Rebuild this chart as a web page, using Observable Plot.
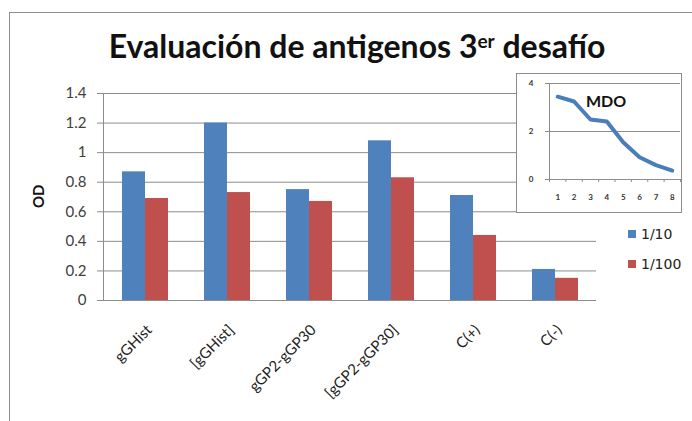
<!DOCTYPE html>
<html><head><meta charset="utf-8">
<script src="https://cdn.jsdelivr.net/npm/d3@7"></script>
<script src="https://cdn.jsdelivr.net/npm/@observablehq/plot@0.6"></script>
<style>
body{margin:0;background:#fff;}
#wrap{position:relative;width:692px;height:421px;overflow:hidden;font-family:Lato,"Open Sans",sans-serif;background:#fff;}
#frame{position:absolute;left:9px;top:12px;width:720px;height:440px;border:1.5px solid #8c8c8c;}
#main{position:absolute;left:0;top:0;}
#title{position:absolute;left:0;width:714px;top:27px;text-align:center;font-size:32px;font-weight:bold;color:#111;line-height:37px;white-space:nowrap;}
#title sup{font-size:19px;vertical-align:top;position:relative;top:-5px;}
#ylab{position:absolute;left:28px;top:186px;width:20px;height:24px;font-size:15px;font-weight:bold;color:#111;transform:rotate(-90deg);transform-origin:50% 50%;text-align:center;line-height:24px;}
#inset{position:absolute;left:516px;top:73px;width:164px;height:138px;border:1.5px solid #8c8c8c;background:#fff;}
#inset svg{position:absolute;left:0;top:0;}
#mdo{position:absolute;left:586px;top:91px;font-size:16px;font-weight:bold;color:#111;font-family:Lato,sans-serif;}
.leg{position:absolute;left:628px;font-family:"DejaVu Sans",sans-serif;font-size:14px;color:#222;line-height:16px;}
.leg span{display:inline-block;width:8px;height:8px;margin-right:5px;vertical-align:1px;}
</style></head>
<body>
<div id="wrap">
  <div id="frame"></div>
  <div id="main"></div>
  <div id="title">Evaluación de antigenos 3<sup>er</sup> desafío</div>
  <div id="ylab">OD</div>
  <div id="inset"></div>
  <div id="mdo">MDO</div>
  <div class="leg" id="leg1" style="top:226px"><span style="background:#4f81bd"></span>1/10</div>
  <div class="leg" id="leg2" style="top:256px"><span style="background:#c0504d"></span>1/100</div>
</div>
<script>
const categories = ["gGHist", "[gGHist]", "gGP2-gGP30", "[gGP2-gGP30]", "C(+)", "C(-)"];
const seriesNames = ["1/10", "1/100"];
const od_1_10 = [0.87, 1.20, 0.75, 1.08, 0.71, 0.21];
const od_1_100 = [0.69, 0.73, 0.67, 0.83, 0.44, 0.15];
const yTicks = [0, 0.2, 0.4, 0.6, 0.8, 1, 1.2, 1.4];

const mdoX = [1, 2, 3, 4, 5, 6, 7, 8];
const mdoY = [3.45, 3.25, 2.5, 2.42, 1.55, 0.93, 0.6, 0.37];
const mdoYTicks = [0, 2, 4];
const mdoXBounds = [0.5, 1.5, 2.5, 3.5, 4.5, 5.5, 6.5, 7.5, 8.5];

const colors = ["#4f81bd", "#c0504d"];
const rows1 = categories.map((c, i) => ({cat: c, v: od_1_10[i]}));
const rows2 = categories.map((c, i) => ({cat: c, v: od_1_100[i]}));
const mdoRows = mdoX.map((x, i) => ({x, y: mdoY[i]}));

const main = Plot.plot({
  width: 692, height: 421,
  marginLeft: 103, marginRight: 96, marginTop: 93, marginBottom: 121,
  style: {fontFamily: "Lato, 'Open Sans', sans-serif", background: "transparent", color: "#333"},
  x: {domain: categories, padding: 0},
  y: {domain: [0, 1.4]},
  marks: [
    Plot.gridY(yTicks, {stroke: "#8c8c8c", strokeOpacity: 1, strokeWidth: 1}),
    Plot.barY(rows1, {x: "cat", y: "v", fill: colors[0], insetLeft: 18, insetRight: 41}),
    Plot.barY(rows2, {x: "cat", y: "v", fill: colors[1], insetLeft: 41, insetRight: 18}),
    Plot.ruleY([0], {stroke: "#8c8c8c"}),
    Plot.frame({anchor: "left", stroke: "#8c8c8c"}),
    Plot.axisY(yTicks, {tickSize: 6, tickPadding: 11, fontSize: 15, label: null, stroke: "#8c8c8c", fill: "#404040", tickFormat: d => String(d)}),
    Plot.axisX({tickRotate: -45, tickSize: 0, tickPadding: 27, fontSize: 15, label: null, fill: "#222", dx: 4})
  ]
});
document.getElementById("main").appendChild(main);

const inset = Plot.plot({
  width: 164, height: 138,
  marginLeft: 32, marginRight: 1, marginTop: 9, marginBottom: 33,
  style: {fontFamily: "Lato, sans-serif", background: "transparent"},
  x: {domain: [0.5, 8.5]},
  y: {domain: [0, 4]},
  marks: [
    Plot.gridY([2, 4], {stroke: "#8c8c8c", strokeOpacity: 1}),
    Plot.ruleY([0], {stroke: "#8c8c8c"}),
    Plot.frame({anchor: "left", stroke: "#8c8c8c"}),
    Plot.axisY(mdoYTicks, {tickSize: 4, tickPadding: 12, fontSize: 8, fontWeight: "bold", label: null, stroke: "#8c8c8c", fill: "#333"}),
    Plot.axisX(mdoXBounds, {tickSize: 3, tickFormat: () => "", label: null, stroke: "#8c8c8c"}),
    Plot.axisX(mdoX, {tickSize: 0, tickPadding: 15, fontSize: 8, fontWeight: "bold", label: null, fill: "#333"}),
    Plot.line(mdoRows, {x: "x", y: "y", stroke: "#4a7ebb", strokeWidth: 4, strokeLinejoin: "round", strokeLinecap: "round"})
  ]
});
document.getElementById("inset").appendChild(inset);
</script>
</body></html>
